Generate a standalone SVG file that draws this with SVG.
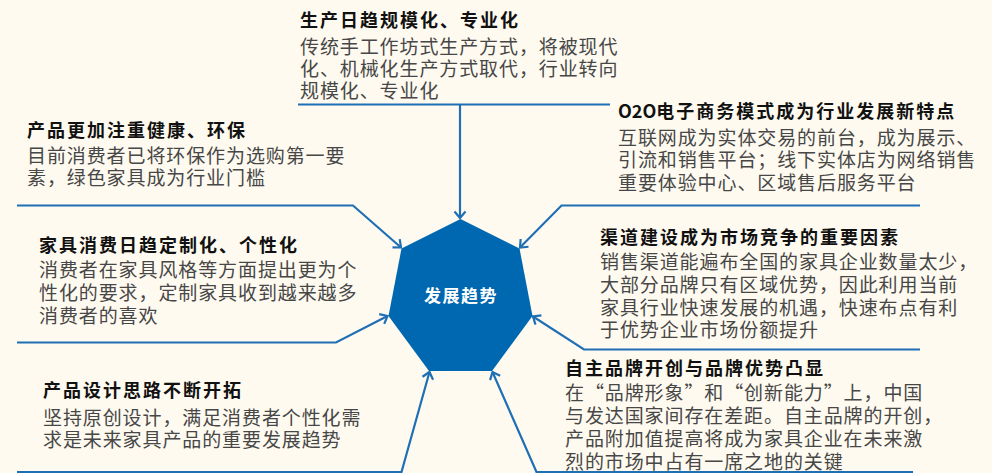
<svg xmlns="http://www.w3.org/2000/svg" width="992" height="473" viewBox="0 0 992 473">
<defs>
<style>
.t{font-family:"Noto Sans CJK SC","Liberation Sans",sans-serif;font-weight:bold;font-size:18px;letter-spacing:2px;fill:#111}
.b{font-family:"Noto Sans CJK SC","Liberation Sans",sans-serif;font-size:19px;letter-spacing:0.9px;fill:#474747}
.ln{fill:none;stroke:#1f6fb4;stroke-width:2.2}
.hub{fill:#0068b0}
.ht{font-family:"Noto Sans CJK SC","Liberation Sans",sans-serif;font-weight:bold;font-size:17px;letter-spacing:1.5px;fill:#fff}
</style>
<marker id="ar" markerUnits="userSpaceOnUse" markerWidth="14" markerHeight="14" viewBox="-8 -7 10 14" refX="0" refY="0" orient="auto">
<path d="M-6.5,-5.5 L0,0 L-6.5,5.5" fill="none" stroke="#1f6fb4" stroke-width="2.2"/>
</marker>
</defs>
<rect width="992" height="473" fill="#fefaf0"/>
<g id="connectors">
<path class="ln" d="M298,104.5 H610"/>
<path class="ln" d="M460,104.5 V218" marker-end="url(#ar)"/>
<path class="ln" d="M17,205.5 H353 L401,247.5" marker-end="url(#ar)"/>
<path class="ln" d="M920,205.5 H561.5 L520,247.5" marker-end="url(#ar)"/>
<path class="ln" d="M17,342.5 H336 L387.5,316" marker-end="url(#ar)"/>
<path class="ln" d="M920,349.5 H584 L533,316.5" marker-end="url(#ar)"/>
<path class="ln" d="M17,472 H401.5 L429.5,372" marker-end="url(#ar)"/>
<path class="ln" d="M913,472 H536.5 L492.5,372" marker-end="url(#ar)"/>
</g>
<g id="hub">
<polygon class="hub" points="460.5,219 519.5,248.5 532.5,316 492,371 429,371 388.5,316 401.5,248.5"/>
<text class="ht" x="461" y="302" text-anchor="middle">发展趋势</text>
</g>
<g id="n1">
<text class="t" x="300" y="27">生产日趋规模化、专业化</text>
<text class="b" x="300" y="54">传统手工作坊式生产方式，将被现代</text>
<text class="b" x="300" y="76">化、机械化生产方式取代，行业转向</text>
<text class="b" x="300" y="98">规模化、专业化</text>
</g>
<g id="n2">
<text class="t" x="27" y="137">产品更加注重健康、环保</text>
<text class="b" x="27" y="163">目前消费者已将环保作为选购第一要</text>
<text class="b" x="27" y="185">素，绿色家具成为行业门槛</text>
</g>
<g id="n3">
<text class="t" x="618" y="118"><tspan letter-spacing="0">O2O</tspan>电子商务模式成为行业发展新特点</text>
<text class="b" x="618" y="145">互联网成为实体交易的前台，成为展示、</text>
<text class="b" x="618" y="167">引流和销售平台；线下实体店为网络销售</text>
<text class="b" x="618" y="190">重要体验中心、区域售后服务平台</text>
</g>
<g id="n4">
<text class="t" x="600" y="244">渠道建设成为市场竞争的重要因素</text>
<text class="b" x="600" y="269">销售渠道能遍布全国的家具企业数量太少，</text>
<text class="b" x="600" y="292">大部分品牌只有区域优势，因此利用当前</text>
<text class="b" x="600" y="315">家具行业快速发展的机遇，快速布点有利</text>
<text class="b" x="600" y="337">于优势企业市场份额提升</text>
</g>
<g id="n5">
<text class="t" x="565" y="375">自主品牌开创与品牌优势凸显</text>
<text class="b" x="565" y="400">在“品牌形象”和“创新能力”上，中国</text>
<text class="b" x="565" y="423">与发达国家间存在差距。自主品牌的开创，</text>
<text class="b" x="565" y="446">产品附加值提高将成为家具企业在未来激</text>
<text class="b" x="565" y="469">烈的市场中占有一席之地的关键</text>
</g>
<g id="n6">
<text class="t" x="39" y="252">家具消费日趋定制化、个性化</text>
<text class="b" x="39" y="277">消费者在家具风格等方面提出更为个</text>
<text class="b" x="39" y="300">性化的要求，定制家具收到越来越多</text>
<text class="b" x="39" y="323">消费者的喜欢</text>
</g>
<g id="n7">
<text class="t" x="43" y="397">产品设计思路不断开拓</text>
<text class="b" x="43" y="425">坚持原创设计，满足消费者个性化需</text>
<text class="b" x="43" y="447">求是未来家具产品的重要发展趋势</text>
</g>
</svg>
